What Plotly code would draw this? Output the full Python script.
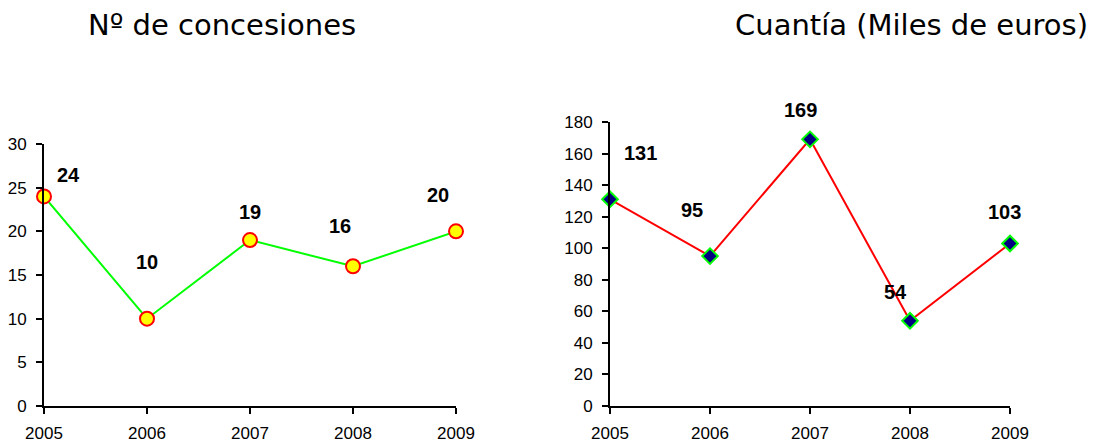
import plotly.graph_objects as go

years = [2005, 2006, 2007, 2008, 2009]
concesiones = [24, 10, 19, 16, 20]
cuantia = [131, 95, 169, 54, 103]

# label offsets in pixels (dx, dy) relative to each point
off_left = [(24, 21), (0, 57), (0, 28), (-13, 40), (-18, 36)]
off_right = [(30, 46), (-18, 46), (-10, 29), (-15, 29), (-6, 31)]

fig = go.Figure()
fig.add_trace(go.Scatter(
    x=years, y=concesiones, mode="lines+markers", xaxis="x", yaxis="y",
    line=dict(color="#00ff00", width=2),
    marker=dict(symbol="circle", size=14, color="#ffff00", line=dict(color="#ff0000", width=2)),
    cliponaxis=False, showlegend=False))
fig.add_trace(go.Scatter(
    x=years, y=cuantia, mode="lines+markers", xaxis="x2", yaxis="y2",
    line=dict(color="#ff0000", width=2),
    marker=dict(symbol="diamond", size=12, color="#000080", line=dict(color="#00ff00", width=2)),
    cliponaxis=False, showlegend=False))

label_font = dict(family="Liberation Sans, Arial", size=20, color="black", weight="bold")
for xv, yv, (dx, dy) in zip(years, concesiones, off_left):
    fig.add_annotation(x=xv, y=yv, xref="x", yref="y", text=str(yv), showarrow=False,
                       xshift=dx, yshift=dy, font=label_font)
for xv, yv, (dx, dy) in zip(years, cuantia, off_right):
    fig.add_annotation(x=xv, y=yv, xref="x2", yref="y2", text=str(yv), showarrow=False,
                       xshift=dx, yshift=dy, font=label_font)

title_font = dict(family="DejaVu Sans, Verdana", size=29, color="black")
fig.add_annotation(x=222 / 1095, y=1 - 25 / 443, xref="paper", yref="paper",
                   xanchor="center", yanchor="middle",
                   text="Nº de concesiones", showarrow=False, font=title_font)
fig.add_annotation(x=1090 / 1095, y=1 - 25 / 443, xref="paper", yref="paper",
                   xanchor="right", yanchor="middle",
                   text="Cuantía (Miles de euros)", showarrow=False, font=title_font)

axis_common = dict(showgrid=False, zeroline=False, showline=True, linecolor="black", linewidth=2,
                   ticks="outside", tickcolor="black", tickwidth=2, ticklen=6, automargin=False,
                   tickfont=dict(family="Liberation Sans, Arial", size=17, color="black"))

fig.update_layout(
    width=1095, height=443,
    margin=dict(l=0, r=0, t=0, b=0),
    paper_bgcolor="white", plot_bgcolor="white",
    xaxis=dict(domain=[44 / 1095, 456 / 1095], range=[2005, 2009], tickvals=years, anchor="y",
               ticklabelstandoff=5, **axis_common),
    yaxis=dict(domain=[37 / 443, 299 / 443], range=[0, 30], dtick=5, anchor="x",
               ticklabelstandoff=6, **axis_common),
    xaxis2=dict(domain=[610 / 1095, 1010 / 1095], range=[2005, 2009], tickvals=years, anchor="y2",
                ticklabelstandoff=5, **axis_common),
    yaxis2=dict(domain=[37 / 443, 321 / 443], range=[0, 180], dtick=20, anchor="x2",
                ticklabelstandoff=6, **axis_common),
)

fig.write_html("out.html", config={"displayModeBar": False},
               post_script="document.body.style.margin='0';document.body.style.overflow='hidden';")
